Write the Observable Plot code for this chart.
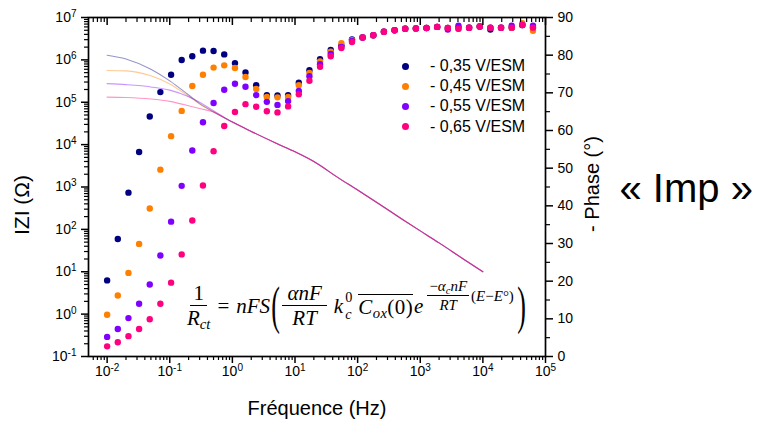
<!DOCTYPE html>
<html>
<head>
<meta charset="utf-8">
<script src="https://cdn.jsdelivr.net/npm/d3@7"></script>
<script src="https://cdn.jsdelivr.net/npm/@observablehq/plot@0.6"></script>
<style>
  html, body { margin: 0; padding: 0; background: #fff; }
  #wrap { position: relative; width: 760px; height: 421px; font-family: "Liberation Sans", Arial, sans-serif; }
  .lrow { position: absolute; display: flex; align-items: center; height: 20px; font-size: 16px; color: #000; white-space: nowrap; }
  .ldot { width: 7px; height: 7px; border-radius: 50%; margin-right: 21px; }
  #formula { position: absolute; left: 185px; top: 277px; height: 58px; display: flex; align-items: center;
             font-family: "Liberation Serif", "DejaVu Serif", serif; font-size: 21px; color: #000; white-space: nowrap; }
  #formula i { font-style: italic; }
  .frac { display: inline-flex; flex-direction: column; align-items: center; margin: 0 2px; }
  .frac .num { border-bottom: 1px solid #000; padding: 0 3px 1px; line-height: 1.05; }
  .frac .den { line-height: 1.1; padding-top: 1px; }
  .big { display: inline-block; font-size: 52px; line-height: 1; transform: scale(0.5, 1.02); margin: 0 -5px; }
  .sub { font-size: 0.7em; position: relative; top: 0.3em; }
  .ss { display: inline-flex; flex-direction: column; justify-content: center; font-size: 0.68em; line-height: 1.2; margin-left: 2px; margin-right: 6px; }
  .ov { border-top: 1.3px solid #000; padding-top: 2px; line-height: 1; letter-spacing: 0.4px; }
  .exp { display: inline-flex; align-items: center; font-size: 15px; position: relative; top: -10px; margin-left: 2px; }
  .exp .frac .num { padding: 0 2px; }
</style>
</head>
<body>
<div id="wrap"></div>
<script>
// ---------- data ----------
const seriesNames = ["- 0,35 V/ESM", "- 0,45 V/ESM", "- 0,55 V/ESM", "- 0,65 V/ESM"];
const seriesColors = ["#000080", "#ff8000", "#8000ff", "#ff0080"];

// measurement frequencies (Hz)
const freqs = [0.01, 0.0148, 0.0219, 0.0324, 0.0479, 0.0708, 0.105, 0.155, 0.229, 0.339,
  0.501, 0.741, 1.10, 1.62, 2.40, 3.55, 5.25, 7.76, 11.5, 17.0,
  25.1, 37.2, 55.0, 81.3, 120, 178, 263, 389, 575, 851,
  1259, 1862, 2754, 4074, 6026, 8913, 13183, 19498, 28840, 42658, 63096];

// - Phase (degrees)
const phase035 = [20.2, 31.2, 43.5, 54.3, 63.7, 70.2, 74.8, 78.7, 79.7, 81.2,
  81.1, 80.2, 77.9, 75.4, 72.0, 69.4, 69.3, 69.4, 72.7, 76.0,
  78.9, 81.4, 82.6, 84.2, 84.7, 85.3, 86.2, 86.6, 87.0, 87.1,
  87.2, 87.5, 87.2, 87.3, 87.3, 87.6, 86.8, 87.3, 87.3, 88.0, 87.3];
const phase045 = [11.1, 16.2, 22.2, 29.9, 39.3, 49.6, 58.5, 65.2, 71.8, 74.8,
  76.7, 77.3, 76.6, 74.2, 71.0, 68.9, 68.8, 68.9, 72.0, 75.3,
  78.3, 80.9, 83.2, 84.0, 84.7, 85.3, 86.2, 86.6, 87.0, 87.1,
  87.2, 87.5, 87.2, 87.0, 87.3, 87.6, 87.3, 87.3, 87.3, 88.5, 86.5];
const phase055 = [5.2, 7.3, 10.2, 14.0, 19.1, 26.8, 35.8, 45.3, 54.7, 62.2,
  67.3, 70.8, 72.4, 71.6, 69.4, 67.6, 66.8, 67.8, 70.5, 74.4,
  77.6, 80.3, 82.2, 83.8, 84.7, 85.3, 86.2, 86.6, 87.0, 87.1,
  87.2, 87.5, 86.8, 87.8, 87.3, 87.6, 87.3, 87.3, 87.8, 88.0, 87.8];
const phase065 = [2.7, 3.8, 5.4, 7.3, 9.9, 14.0, 19.6, 27.1, 36.1, 45.4,
  54.5, 61.2, 64.9, 67.0, 66.3, 65.1, 64.8, 66.4, 69.6, 73.2,
  76.9, 79.7, 81.9, 83.5, 84.7, 85.3, 86.2, 86.6, 87.0, 87.1,
  87.2, 87.5, 87.2, 87.0, 87.3, 87.6, 87.3, 87.3, 87.3, 88.0, 87.3];

// |Z| model curves (Ohm)
const zFreqs = [0.01, 0.02, 0.05, 0.1, 0.2, 0.3, 0.5, 1, 2, 5, 10, 20, 50, 100, 200, 500, 1000, 2000, 5000, 10000];
const z035 = [1.29e6, 1.05e6, 6.0e5, 3.2e5, 1.48e5, 9.3e4, 5.9e4, 3.4e4, 2.05e4, 1.08e4, 6.8e3, 4.0e3, 1.62e3, 850, 437, 178, 92, 48, 19.5, 10];
const z045 = [5.6e5, 5.5e5, 4.2e5, 2.7e5, 1.38e5, 9.1e4, 6.0e4, 3.4e4, 2.05e4, 1.08e4, 6.8e3, 4.0e3, 1.62e3, 850, 437, 178, 92, 48, 19.5, 10];
const z055 = [2.75e5, 2.6e5, 2.3e5, 1.93e5, 1.35e5, 1.0e5, 6.3e4, 3.4e4, 2.05e4, 1.08e4, 6.8e3, 4.0e3, 1.62e3, 850, 437, 178, 92, 48, 19.5, 10];
const z065 = [1.32e5, 1.29e5, 1.19e5, 1.05e5, 8.3e4, 7.1e4, 5.9e4, 3.4e4, 2.05e4, 1.08e4, 6.8e3, 4.0e3, 1.62e3, 850, 437, 178, 92, 48, 19.5, 10];

// tick labels
const xMajor = [0.01, 0.1, 1, 10, 100, 1000, 10000, 100000];
const yMajor = [0.1, 1, 10, 100, 1000, 1e4, 1e5, 1e6, 1e7];
const phaseTicks = [0, 10, 20, 30, 40, 50, 60, 70, 80, 90];
const phaseMinorTicks = [5, 15, 25, 35, 45, 55, 65, 75, 85];

// ---------- build ----------
const phaseSeries = [phase035, phase045, phase055, phase065];
const zSeries = [z035, z045, z055, z065];

// y scale is linear in log10(|Z|): -1 .. 7; right axis maps phase 0..90 onto the same height
const L0 = -1, L1 = 7, P1 = 90;
const phaseToY = p => L0 + p / P1 * (L1 - L0);
const yToPhase = y => (y - L0) / (L1 - L0) * P1;

const points = [];
phaseSeries.forEach((arr, s) => arr.forEach((p, i) => points.push({f: freqs[i], phase: p, s})));
const lines = [];
zSeries.forEach((arr, s) => arr.forEach((z, i) => lines.push({f: zFreqs[i], z, s})));

const minorLog = (lo, hi) => {
  const out = [];
  for (let e = Math.floor(Math.log10(lo)); e <= Math.ceil(Math.log10(hi)); e++)
    for (let m = 2; m <= 9; m++) { const v = m * Math.pow(10, e); if (v >= lo && v <= hi) out.push(v); }
  return out;
};
const xDomain = [0.00504, 1e5];
const xMinor = minorLog(xDomain[0], xDomain[1]);
const yMinor = minorLog(yMajor[0], yMajor[yMajor.length - 1]);
const blank = () => "";

const chart = Plot.plot({
  width: 760, height: 421,
  marginLeft: 88, marginRight: 215, marginTop: 17, marginBottom: 65,
  style: {fontFamily: "'Liberation Sans', Arial, sans-serif", fontSize: "14px", color: "#000", background: "#fff"},
  x: {type: "log", domain: xDomain},
  y: {type: "linear", domain: [L0, L1]},
  marks: [
    ...[0, 1, 2, 3].map(s => Plot.line(lines.filter(d => d.s === s), {
      x: "f", y: d => Math.log10(d.z), stroke: seriesColors[s], strokeOpacity: 0.42, strokeWidth: 1.1, curve: "monotone-x"})),
    ...[0, 1, 2, 3].map(s => Plot.dot(points.filter(d => d.s === s), {
      x: "f", y: d => phaseToY(d.phase), r: 3.2, fill: seriesColors[s], stroke: "none"})),
    Plot.frame({stroke: "#000", strokeWidth: 1.7}),
    Plot.axisX({ticks: xMajor, tickSize: 7, tickPadding: 3, tickFormat: d => "10^" + Math.round(Math.log10(d)), label: null, strokeWidth: 1.5, fontSize: 14}),
    Plot.axisX({ticks: xMinor, tickSize: 4, tickFormat: blank, label: null, strokeWidth: 1.2}),
    Plot.axisX({anchor: "top", ticks: xMajor, tickSize: 7, dy: 7, tickFormat: blank, label: null, strokeWidth: 1.5}),
    Plot.axisX({anchor: "top", ticks: xMinor, tickSize: 4, dy: 4, tickFormat: blank, label: null, strokeWidth: 1.2}),
    Plot.axisY({ticks: yMajor.map(Math.log10), tickSize: 7, tickPadding: 5, tickFormat: d => "10^" + Math.round(d), label: null, strokeWidth: 1.5, fontSize: 14}),
    Plot.axisY({ticks: yMinor.map(Math.log10), tickSize: 4, tickFormat: blank, label: null, strokeWidth: 1.2}),
    Plot.axisY({anchor: "right", ticks: phaseTicks.map(phaseToY), tickSize: 7, tickPadding: 5,
      tickFormat: d => String(Math.round(yToPhase(d))), label: null, strokeWidth: 1.5, fontSize: 14}),
    Plot.axisY({anchor: "right", ticks: phaseMinorTicks.map(phaseToY), tickSize: 4, tickFormat: blank, label: null, strokeWidth: 1.2}),
    Plot.text(["Fréquence (Hz)"], {frameAnchor: "bottom", dy: 52, fontSize: 20, textAnchor: "middle", lineAnchor: "middle", text: d => d}),
    Plot.text(["IZI (Ω)"], {frameAnchor: "left", dx: -66, dy: 18, rotate: -90, fontSize: 21, textAnchor: "middle", lineAnchor: "middle", text: d => d}),
    Plot.text(["- Phase (°)"], {frameAnchor: "right", dx: 47, dy: -3, rotate: -90, fontSize: 20, textAnchor: "middle", lineAnchor: "middle", text: d => d}),
    Plot.text(["« Imp »"], {frameAnchor: "right", dx: 74, dy: 2, textAnchor: "start", fontSize: 40, lineAnchor: "middle", text: d => d})
  ]
});

// superscript exponents for the power-of-ten tick labels
const NS = "http://www.w3.org/2000/svg";
chart.querySelectorAll("text").forEach(t => {
  const m = (t.textContent || "").match(/^10\^(-?\d+)$/);
  if (m) {
    t.textContent = "10";
    const ts = document.createElementNS(NS, "tspan");
    ts.setAttribute("dy", "-0.5em");
    ts.setAttribute("font-size", "10");
    ts.textContent = m[1];
    t.appendChild(ts);
  }
});

const wrap = document.getElementById("wrap");
wrap.appendChild(chart);

// legend
seriesNames.forEach((name, i) => {
  const row = document.createElement("div");
  row.className = "lrow";
  row.style.left = "402px";
  row.style.top = (56 + i * 20.2) + "px";
  const dot = document.createElement("span");
  dot.className = "ldot";
  dot.style.background = seriesColors[i];
  const lab = document.createElement("span");
  lab.textContent = name;
  row.appendChild(dot); row.appendChild(lab);
  wrap.appendChild(row);
});

// equation
const eq = document.createElement("div");
eq.id = "formula";
eq.innerHTML =
  '<span class="frac"><span class="num">1</span><span class="den"><i>R</i><span class="sub"><i>ct</i></span></span></span>' +
  '<span style="margin:0 7px 0 5px">=</span><i>nFS</i>' +
  '<span class="big" style="margin-left:-3px">(</span>' +
  '<span class="frac" style="margin:0 3px"><span class="num" style="padding:0 5px 1px"><i>αnF</i></span><span class="den"><i>RT</i></span></span>' +
  '<i style="margin-left:4px">k</i><span class="ss"><span>0</span><span><i>c</i></span></span>' +
  '<span class="ov"><i>C</i><span class="sub"><i>ox</i></span>(0)</span>' +
  '<i style="margin-left:1px">e</i>' +
  '<span class="exp"><span class="frac"><span class="num">−<i>α</i><span class="sub"><i>c</i></span><i>nF</i></span><span class="den"><i>RT</i></span></span>(<i>E</i>−<i>E</i>°)</span>' +
  '<span class="big" style="margin-left:-1px">)</span>';
wrap.appendChild(eq);
</script>
</body>
</html>
